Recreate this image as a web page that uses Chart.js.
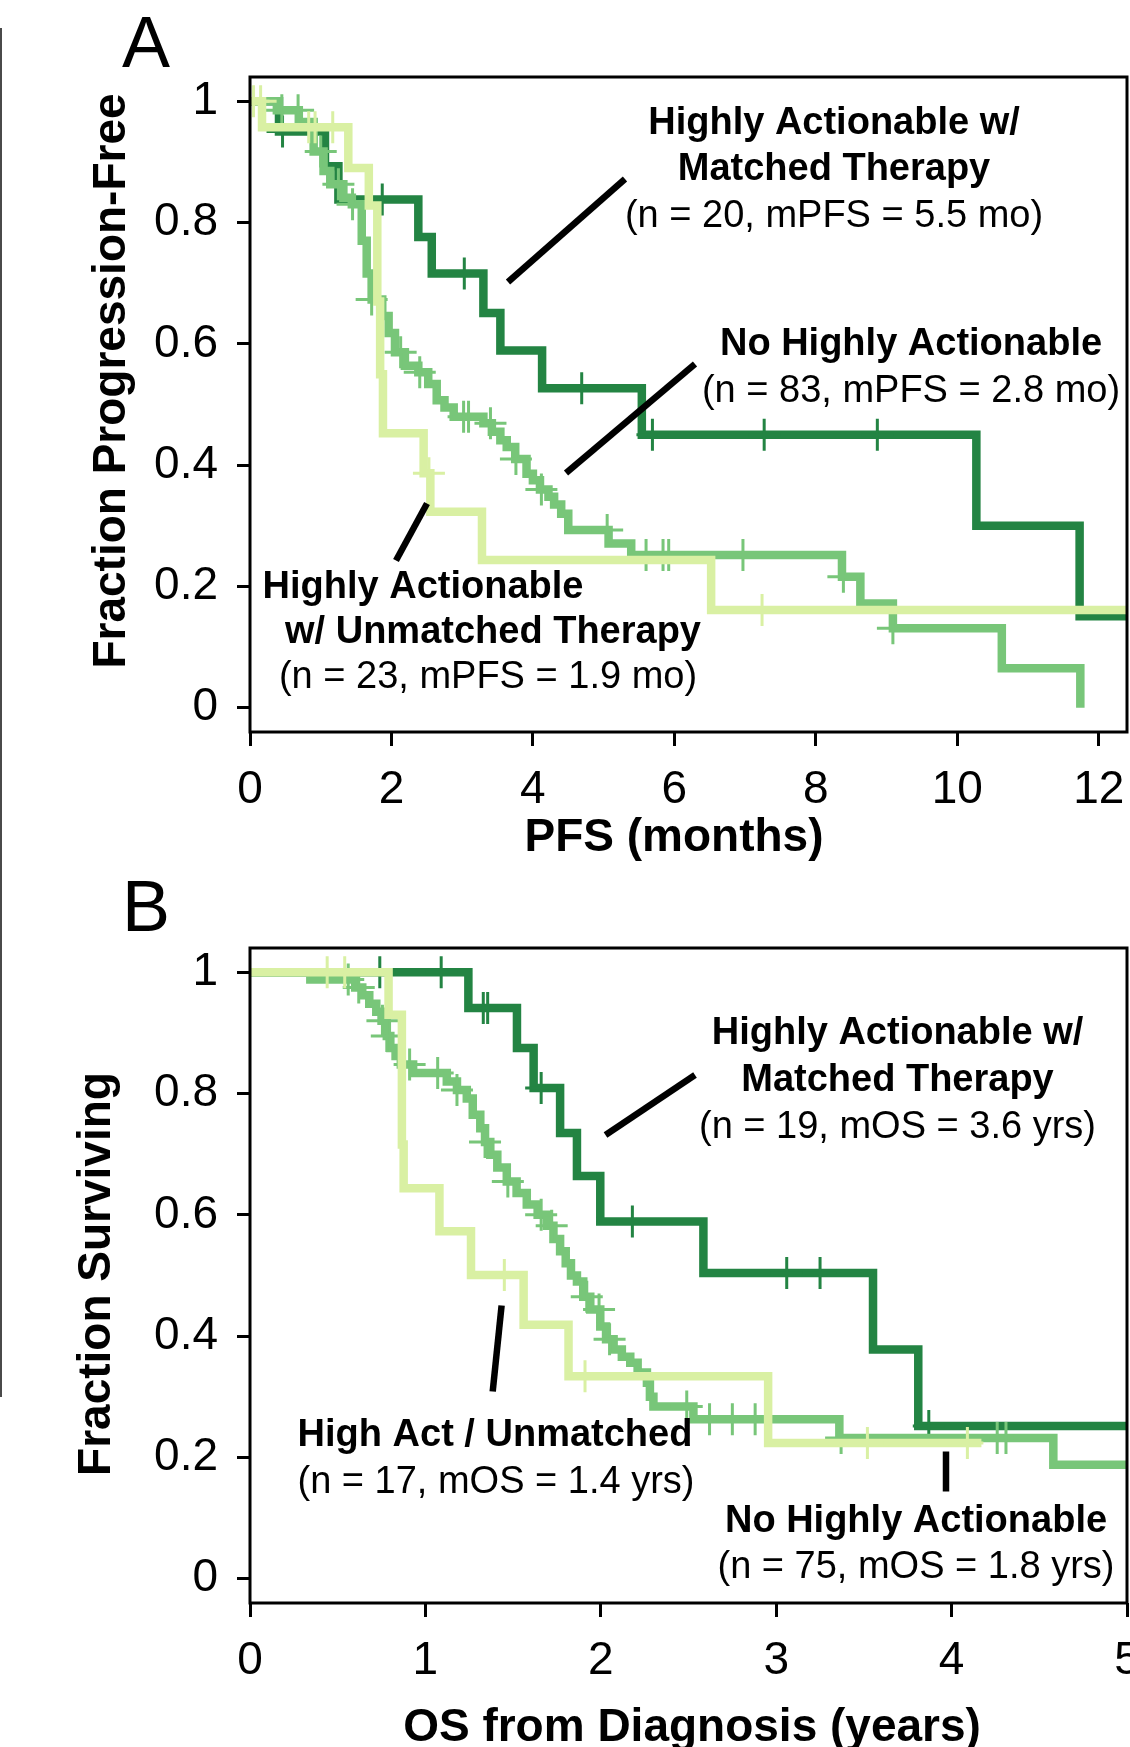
<!DOCTYPE html>
<html>
<head>
<meta charset="utf-8">
<script src="https://cdn.jsdelivr.net/npm/chart.js@4.4.1/dist/chart.umd.min.js"></script>
<style>
html,body{margin:0;padding:0;background:#fff;}
#wrap{position:relative;width:1130px;height:1747px;overflow:hidden;background:#fff;}
#cA{position:absolute;left:0;top:0;}
#cB{position:absolute;left:0;top:870px;}
#edge{position:absolute;left:0;top:28px;width:2px;height:1369px;background:#4a4a4a;}
</style>
</head>
<body>
<div id="wrap">
<canvas id="cA" width="1130" height="870"></canvas>
<canvas id="cB" width="1130" height="877"></canvas>
<div id="edge"></div>
</div>
<script>
// ---------- DATA ----------
// Panel A: progression-free survival (months)
const pfsMatchedTime = [0, 0.41, 1.06, 1.25, 2.38, 2.57, 3.30, 3.54, 4.13, 5.54, 10.27, 11.73, 12.4];
const pfsMatchedSurv = [1, 0.95, 0.893, 0.838, 0.776, 0.716, 0.651, 0.589, 0.527, 0.45, 0.30, 0.151, 0.151];
const pfsMatchedCensor = [0.46, 1.87, 3.03, 4.69, 5.69, 7.27, 8.87];

const pfsNoneTime = [0, 0.38, 0.69, 0.90, 1.04, 1.135, 1.32, 1.44, 1.58, 1.65, 1.72, 1.87, 1.96, 2.05, 2.19, 2.38, 2.52, 2.64, 2.75, 2.88, 3.30, 3.42, 3.54, 3.63, 3.75, 3.91, 4.00, 4.10, 4.22, 4.30, 4.40, 4.50, 5.07, 5.39, 8.37, 8.63, 9.09, 10.63, 11.74];
const pfsNoneSurv = [1, 0.985, 0.966, 0.917, 0.885, 0.863, 0.841, 0.83, 0.77, 0.716, 0.673, 0.646, 0.618, 0.586, 0.564, 0.553, 0.534, 0.507, 0.495, 0.48, 0.469, 0.455, 0.441, 0.43, 0.41, 0.386, 0.375, 0.36, 0.348, 0.335, 0.32, 0.293, 0.271, 0.252, 0.216, 0.172, 0.131, 0.065, 0];
const pfsNoneCensor = [0.45, 0.68, 1.0, 1.25, 1.45, 1.72, 2.13, 2.4, 3.02, 3.09, 3.4, 3.76, 4.12, 5.05, 5.6, 5.84, 5.92, 6.97, 8.39, 9.09];

const pfsUnmatchedTime = [0, 0.17, 1.39, 1.68, 1.80, 1.84, 1.88, 2.455, 2.55, 3.28, 6.52, 12.4];
const pfsUnmatchedSurv = [1, 0.957, 0.89, 0.828, 0.67, 0.55, 0.4525, 0.3865, 0.323, 0.2435, 0.161, 0.161];
const pfsUnmatchedCensor = [0.05, 0.15, 0.83, 0.92, 1.17, 2.53, 7.24];

// Panel B: overall survival from diagnosis (years)
const osMatchedTime = [0, 1.245, 1.522, 1.617, 1.768, 1.864, 1.997, 2.585, 3.552, 3.81, 5];
const osMatchedSurv = [1, 0.941, 0.875, 0.809, 0.735, 0.664, 0.589, 0.504, 0.378, 0.252, 0.252];
const osMatchedCensor = [0.74, 1.09, 1.33, 1.355, 1.66, 2.18, 3.06, 3.25, 3.87];

const osNoneTime = [0, 0.344, 0.60, 0.64, 0.68, 0.72, 0.75, 0.78, 0.80, 0.83, 0.86, 0.93, 1.122, 1.18, 1.236, 1.27, 1.313, 1.34, 1.37, 1.41, 1.464, 1.52, 1.578, 1.64, 1.693, 1.73, 1.768, 1.80, 1.83, 1.864, 1.90, 1.94, 1.997, 2.03, 2.073, 2.12, 2.168, 2.21, 2.263, 2.28, 2.30, 2.528, 3.36, 4.58, 5];
const osNoneSurv = [1, 0.988, 0.975, 0.962, 0.948, 0.935, 0.92, 0.895, 0.875, 0.862, 0.848, 0.834, 0.82, 0.806, 0.792, 0.765, 0.743, 0.72, 0.699, 0.678, 0.655, 0.636, 0.617, 0.60, 0.582, 0.56, 0.54, 0.52, 0.50, 0.49, 0.465, 0.444, 0.416, 0.395, 0.378, 0.366, 0.356, 0.34, 0.323, 0.30, 0.284, 0.263, 0.232, 0.188, 0.188];
const osNoneCensor = [0.56, 0.62, 0.755, 0.78, 0.91, 1.07, 1.18, 1.34, 1.47, 1.66, 1.72, 1.92, 1.99, 2.05, 2.49, 2.62, 2.75, 2.88, 3.37, 4.26, 4.31];

const osUnmatchedTime = [0, 0.79, 0.866, 0.876, 1.08, 1.26, 1.56, 1.816, 2.954, 4.17];
const osUnmatchedSurv = [1, 0.93, 0.716, 0.644, 0.573, 0.501, 0.419, 0.334, 0.224, 0.224];
const osUnmatchedCensor = [0.44, 0.54, 1.45, 1.91, 3.52, 4.09];

// Axes
const pfsXTicks = [0, 2, 4, 6, 8, 10, 12];
const osXTicks = [0, 1, 2, 3, 4, 5];
const yTicks = [0, 0.2, 0.4, 0.6, 0.8, 1];
const pfsXMax = 12.4;
const osXMax = 5;

// ---------- STYLE ----------
const FAMILY = '"Liberation Sans", Arial, Helvetica, sans-serif';
const C_MATCHED = '#238443';
const C_NONE = '#78c679';
const C_UNMATCHED = '#d9f0a3';
const CURVE_WIDTH = 8.5;
Chart.defaults.font.family = FAMILY;

function survAt(times, surv, t) {
  let v = surv[0];
  for (let i = 0; i < times.length; i++) if (times[i] <= t) v = surv[i];
  return v;
}

function kmDatasets(times, surv, censor, color, order) {
  const line = {
    type: 'line',
    data: times.map((t, i) => ({ x: t, y: surv[i] })),
    borderColor: color, backgroundColor: color,
    borderWidth: CURVE_WIDTH, stepped: 'before', pointRadius: 0, fill: false,
    borderJoinStyle: 'miter', borderCapStyle: 'butt', order
  };
  const marks = {
    type: 'scatter',
    data: censor.map(t => ({ x: t, y: survAt(times, surv, t) })),
    pointStyle: 'cross', pointRadius: 16, pointHoverRadius: 16,
    pointBorderWidth: 3, borderWidth: 3, borderColor: color, backgroundColor: color,
    pointBorderColor: color, showLine: false, order
  };
  return [marks, line];
}

function scalesFor(xmax, xticks, xh) {
  const tickFont = { family: FAMILY, size: 46 };
  return {
    x: {
      type: 'linear', min: 0, max: xmax, bounds: 'data',
      afterBuildTicks: s => { s.ticks = xticks.map(v => ({ value: v })); },
      afterFit: s => { s.height = xh; s.paddingLeft = 0; s.paddingRight = 0; },
      ticks: { font: tickFont, color: '#000', padding: 17, autoSkip: false, maxRotation: 0, minRotation: 0,
        callback: v => String(v) },
      grid: { drawOnChartArea: false, drawTicks: true, tickLength: 14, color: '#000', lineWidth: 3 },
      border: { display: false }
    },
    y: {
      type: 'linear', min: -0.04, max: 1.04, bounds: 'data',
      afterBuildTicks: s => { s.ticks = yTicks.map(v => ({ value: v })); },
      afterFit: s => { s.width = 250; s.paddingTop = 0; s.paddingBottom = 0; },
      ticks: { font: tickFont, color: '#000', padding: 19, autoSkip: false,
        callback: v => String(Math.round(v * 10) / 10) },
      grid: { drawOnChartArea: false, drawTicks: true, tickLength: 13, color: '#000', lineWidth: 3 },
      border: { display: false }
    }
  };
}

function decoPlugin(spec) {
  return {
    id: 'deco' + spec.id,
    afterDraw(chart) {
      const ctx = chart.ctx, a = chart.chartArea;
      ctx.save();
      ctx.strokeStyle = '#000';
      ctx.lineWidth = 3;
      ctx.strokeRect(a.left, a.top, a.right - a.left, a.bottom - a.top);
      ctx.lineWidth = 6.5;
      ctx.lineCap = 'butt';
      spec.leaders.forEach(l => {
        ctx.beginPath(); ctx.moveTo(l[0], l[1]); ctx.lineTo(l[2], l[3]); ctx.stroke();
      });
      ctx.fillStyle = '#000';
      ctx.textAlign = 'center';
      ctx.textBaseline = 'middle';
      spec.texts.forEach(t => {
        ctx.font = (t.bold ? 'bold ' : '') + t.size + 'px ' + FAMILY;
        ctx.fillText(t.s, t.x, t.y + 3.5);
      });
      ctx.font = '72px ' + FAMILY;
      ctx.fillText(spec.letter.s, spec.letter.x, spec.letter.y);
      ctx.font = 'bold 46px ' + FAMILY;
      ctx.fillText(spec.xTitle.s, spec.xTitle.x, spec.xTitle.y);
      ctx.translate(spec.yTitle.x, spec.yTitle.y);
      ctx.rotate(-Math.PI / 2);
      ctx.fillText(spec.yTitle.s, 0, 0);
      ctx.restore();
    }
  };
}

function makeChart(id, datasets, xmax, xticks, xh, top, spec) {
  return new Chart(document.getElementById(id), {
    type: 'line',
    data: { datasets },
    options: {
      responsive: false, animation: false, devicePixelRatio: 1,
      events: [],
      datasets: { line: { borderWidth: CURVE_WIDTH } },
      elements: { line: { borderWidth: CURVE_WIDTH } },
      layout: { autoPadding: false, padding: { top: top, right: 3, left: 0, bottom: 0 } },
      plugins: { legend: { display: false }, tooltip: { enabled: false } },
      scales: scalesFor(xmax, xticks, xh)
    },
    plugins: [decoPlugin(spec)]
  });
}

const dsA = [].concat(
  kmDatasets(pfsUnmatchedTime, pfsUnmatchedSurv, pfsUnmatchedCensor, C_UNMATCHED, 0),
  kmDatasets(pfsNoneTime, pfsNoneSurv, pfsNoneCensor, C_NONE, 1),
  kmDatasets(pfsMatchedTime, pfsMatchedSurv, pfsMatchedCensor, C_MATCHED, 2)
);
const dsB = [].concat(
  kmDatasets(osUnmatchedTime, osUnmatchedSurv, osUnmatchedCensor, C_UNMATCHED, 0),
  kmDatasets(osNoneTime, osNoneSurv, osNoneCensor, C_NONE, 1),
  kmDatasets(osMatchedTime, osMatchedSurv, osMatchedCensor, C_MATCHED, 2)
);

makeChart('cA', dsA, pfsXMax, pfsXTicks, 138, 77, {
  id: 'A',
  letter: { s: 'A', x: 146, y: 47 },
  xTitle: { s: 'PFS (months)', x: 674, y: 838 },
  yTitle: { s: 'Fraction Progression-Free', x: 112, y: 381 },
  leaders: [[508, 282, 625, 179], [566, 473, 695, 364], [427, 503.5, 396, 560.5]],
  texts: [
    { s: 'Highly Actionable w/', x: 834, y: 120, size: 38, bold: true },
    { s: 'Matched Therapy', x: 834, y: 166, size: 38, bold: true },
    { s: '(n = 20, mPFS = 5.5 mo)', x: 834, y: 213, size: 38, bold: false },
    { s: 'No Highly Actionable', x: 911, y: 341, size: 38, bold: true },
    { s: '(n = 83, mPFS = 2.8 mo)', x: 911, y: 388, size: 38, bold: false },
    { s: 'Highly Actionable', x: 423, y: 584, size: 38, bold: true },
    { s: 'w/ Unmatched Therapy', x: 493, y: 629, size: 38, bold: true },
    { s: '(n = 23, mPFS = 1.9 mo)', x: 488, y: 674, size: 38, bold: false }
  ]
});

makeChart('cB', dsB, osXMax, osXTicks, 144, 78, {
  id: 'B',
  letter: { s: 'B', x: 146, y: 41 },
  xTitle: { s: 'OS from Diagnosis (years)', x: 692, y: 858 },
  yTitle: { s: 'Fraction Surviving', x: 97, y: 404 },
  leaders: [[605.5, 265, 695, 205], [501.6, 435.5, 492.7, 521.5], [946, 581.5, 946, 621.5]],
  texts: [
    { s: 'Highly Actionable w/', x: 897.5, y: 160, size: 38, bold: true },
    { s: 'Matched Therapy', x: 897.5, y: 207, size: 38, bold: true },
    { s: '(n = 19, mOS = 3.6 yrs)', x: 897.5, y: 254, size: 38, bold: false },
    { s: 'High Act / Unmatched', x: 495, y: 562, size: 38, bold: true },
    { s: '(n = 17, mOS = 1.4 yrs)', x: 496, y: 609, size: 38, bold: false },
    { s: 'No Highly Actionable', x: 916, y: 648, size: 38, bold: true },
    { s: '(n = 75, mOS = 1.8 yrs)', x: 916, y: 694, size: 38, bold: false }
  ]
});
</script>
</body>
</html>
